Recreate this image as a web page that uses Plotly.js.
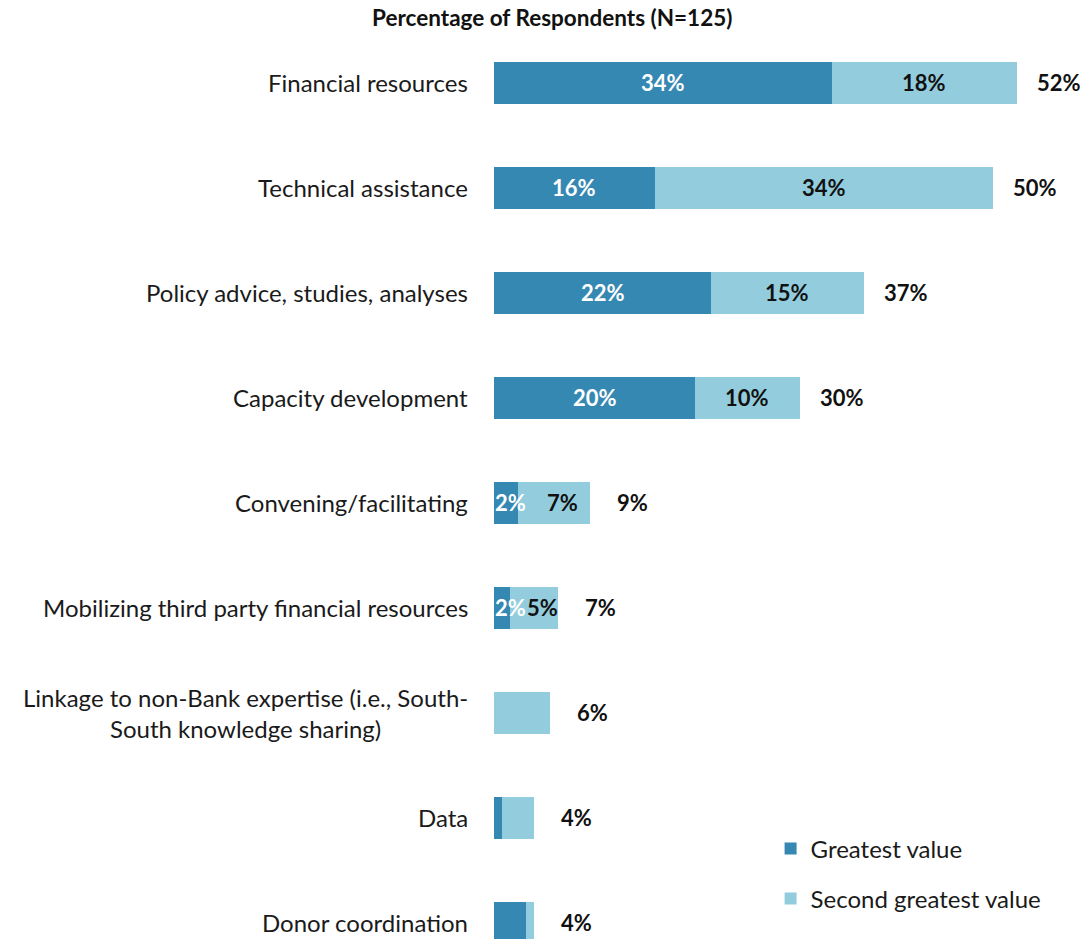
<!DOCTYPE html>
<html>
<head>
<meta charset="utf-8">
<script src="https://cdn.plot.ly/plotly-3.0.1.min.js"></script>
<style>html,body{margin:0;padding:0;background:#fff;}#chart{width:1085px;height:939px;}</style>
</head>
<body>
<div id="chart"></div>
<script>
const categories = [
  "Financial resources",
  "Technical assistance",
  "Policy advice, studies, analyses",
  "Capacity development",
  "Convening/facilitating",
  "Mobilizing third party financial resources",
  "Linkage to non-Bank expertise (i.e., South-<br>South knowledge sharing)",
  "Data",
  "Donor coordination"
];
const greatestValue = [33.6, 16.0, 21.6, 20.0, 2.4, 1.6, 0, 0.8, 3.2];
const secondValue   = [18.4, 33.6, 15.2, 10.4, 7.2, 4.8, 5.6, 3.2, 0.8];
const greatestLabels = ["34%", "16%", "22%", "20%", "2%", "2%", "", "", ""];
const secondLabels   = ["18%", "34%", "15%", "10%", "7%", "5%", "", "", ""];
const totalLabels    = ["52%", "50%", "37%", "30%", "9%", "7%", "6%", "4%", "4%"];

const FONT = "Lato, 'Open Sans', sans-serif";
const DARK = "#3588B2";
const LIGHT = "#93CDDD";

const totals = greatestValue.map((v, i) => v + secondValue[i]);
const yIdx = categories.map((c, i) => i);

const traces = [
  {
    type: "bar", orientation: "h", name: "Greatest value",
    x: greatestValue, y: yIdx,
    marker: {color: DARK},
    hoverinfo: "skip", legendgroup: "g1"
  },
  {
    type: "bar", orientation: "h", name: "Second greatest value",
    x: secondValue, y: yIdx,
    marker: {color: LIGHT},
    hoverinfo: "skip", legendgroup: "g2"
  }
];

const annotations = [];
categories.forEach((c, i) => {
  annotations.push({
    xref: "paper", yref: "y", x: 0, y: i, xanchor: "right", yanchor: "middle",
    xshift: -24, text: c, showarrow: false, align: "center",
    font: {family: FONT, size: 24, color: "#1a1a1a"}
  });
  annotations.push({
    xref: "x", yref: "y", x: totals[i], y: i, xanchor: "center", yanchor: "middle",
    xshift: 42, text: "<b>" + totalLabels[i] + "</b>", showarrow: false,
    font: {family: FONT, size: 22, color: "#111111"}
  });
  const narrow = greatestValue[i] < 4;
  if (greatestLabels[i]) {
    // labels of narrow segments start at the axis origin (overflowing to the right)
    annotations.push({
      xref: "x", yref: "y", x: narrow ? 0 : greatestValue[i] / 2, y: i,
      xanchor: narrow ? "left" : "center", yanchor: "middle",
      text: "<b>" + greatestLabels[i] + "</b>", showarrow: false,
      borderpad: 0, font: {family: FONT, size: 22, color: "#ffffff"}
    });
  }
  if (secondLabels[i]) {
    annotations.push({
      xref: "x", yref: "y", x: greatestValue[i] + secondValue[i] / 2, y: i,
      xanchor: "center", yanchor: "middle", xshift: narrow ? 8 : 0,
      text: "<b>" + secondLabels[i] + "</b>", showarrow: false,
      borderpad: 0, font: {family: FONT, size: 22, color: "#111111"}
    });
  }
});

const layout = {
  width: 1085, height: 939,
  margin: {l: 494, r: 0, t: 30, b: 0, pad: 0},
  paper_bgcolor: "#ffffff", plot_bgcolor: "#ffffff",
  barmode: "stack", bargap: 0.6,
  title: {
    text: "<b>Percentage of Respondents (N=125)</b>",
    x: 0.509, xanchor: "center", xref: "container",
    y: 1 - 18 / 939, yanchor: "middle", yref: "container",
    font: {family: FONT, size: 22.5, color: "#111111"}
  },
  xaxis: {range: [0, 58.8], visible: false, fixedrange: true},
  yaxis: {range: [8.157, -0.5], showticklabels: false, showgrid: false,
          zeroline: false, showline: false, ticks: "", fixedrange: true},
  showlegend: true,
  legend: {
    x: 0.468, y: 0.124, xanchor: "left", yanchor: "top",
    font: {family: FONT, size: 24, color: "#1a1a1a"},
    tracegroupgap: 16, bgcolor: "rgba(0,0,0,0)", traceorder: "grouped"
  },
  annotations: annotations
};

Plotly.newPlot("chart", traces, layout, {displayModeBar: false, staticPlot: true});
</script>
</body>
</html>
